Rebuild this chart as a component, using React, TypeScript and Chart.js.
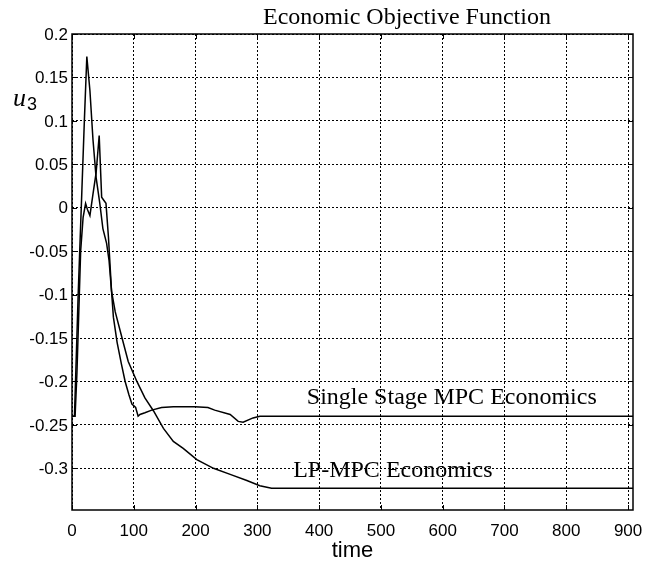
import React, { useEffect, useRef } from "react";
import { Chart, registerables } from "chart.js";

Chart.register(...registerables);

const xTicks = [0, 100, 200, 300, 400, 500, 600, 700, 800, 900];
const yTicks = [0.2, 0.15, 0.1, 0.05, 0, -0.05, -0.1, -0.15, -0.2, -0.25, -0.3];
const yTickLabels = ["0.2", "0.15", "0.1", "0.05", "0", "-0.05", "-0.1", "-0.15", "-0.2", "-0.25", "-0.3"];

const singleT = [0, 5, 8, 11, 14, 18, 22, 25, 29, 34, 39, 44, 48, 52, 55, 59, 64, 67, 73, 80, 86, 92, 97, 103, 107, 110, 118, 129, 145, 164, 199, 220, 231, 256, 269, 277, 293, 304, 908];
const singleU = [-0.24, -0.24, -0.19, -0.12, -0.05, -0.011, 0.005, -0.002, -0.009, 0.016, 0.04, 0.083, 0.012, 0.008, 0.005, -0.034, -0.096, -0.126, -0.155, -0.18, -0.2, -0.215, -0.226, -0.23, -0.24, -0.238, -0.236, -0.233, -0.23, -0.229, -0.229, -0.23, -0.233, -0.238, -0.246, -0.247, -0.242, -0.24, -0.24];

const lpT = [0, 4, 10, 16, 20, 24, 29, 34, 39, 45, 50, 56, 60, 64, 70, 81, 91, 105, 118, 132, 148, 164, 180, 202, 229, 256, 283, 304, 323, 908];
const lpU = [-0.24, -0.24, -0.1, 0.02, 0.1, 0.174, 0.135, 0.078, 0.035, 0.005, -0.024, -0.041, -0.061, -0.096, -0.12, -0.15, -0.177, -0.2, -0.219, -0.234, -0.254, -0.269, -0.277, -0.29, -0.3, -0.307, -0.314, -0.32, -0.323, -0.323];

const titleText = "Economic Objective Function";
const annotations = [
  { text: "Single Stage MPC Economics", t: 380, u: -0.226 },
  { text: "LP-MPC Economics", t: 358, u: -0.3095 },
];

const SANS = '"Liberation Sans", Arial, sans-serif';
const SERIF = '"Liberation Serif", "Times New Roman", serif';

const overlay = {
  id: "overlay",
  afterDraw(chart: any) {
    const ctx = chart.ctx;
    const { left, right, top, bottom } = chart.chartArea;
    const xs = chart.scales.x;
    const ys = chart.scales.y;
    ctx.save();
    ctx.strokeStyle = "#000";
    ctx.lineWidth = 1.5;
    ctx.strokeRect(left, top, right - left, bottom - top);
    ctx.lineWidth = 1;
    ctx.beginPath();
    xTicks.forEach((v) => {
      const px = Math.round(xs.getPixelForValue(v)) + 0.5;
      ctx.moveTo(px, bottom);
      ctx.lineTo(px, bottom - 5);
      ctx.moveTo(px, top);
      ctx.lineTo(px, top + 5);
    });
    yTicks.forEach((v) => {
      const py = Math.round(ys.getPixelForValue(v)) + 0.5;
      ctx.moveTo(left, py);
      ctx.lineTo(left + 5, py);
      ctx.moveTo(right, py);
      ctx.lineTo(right - 5, py);
    });
    ctx.stroke();
    ctx.fillStyle = "#000";

    ctx.font = `17px ${SANS}`;
    ctx.textAlign = "center";
    ctx.textBaseline = "middle";
    xTicks.forEach((v) => {
      ctx.fillText(String(v), xs.getPixelForValue(v), 531);
    });
    ctx.textAlign = "right";
    yTicks.forEach((v, i) => {
      ctx.fillText(yTickLabels[i], left - 4, ys.getPixelForValue(v) + 1);
    });

    ctx.textAlign = "left";
    ctx.textBaseline = "alphabetic";
    ctx.font = `24px ${SERIF}`;
    ctx.fillText(titleText, 263, 24);
    annotations.forEach((a) => {
      ctx.fillText(a.text, xs.getPixelForValue(a.t), ys.getPixelForValue(a.u));
    });

    ctx.font = `22px ${SANS}`;
    ctx.textAlign = "center";
    ctx.textBaseline = "middle";
    ctx.fillText("time", (left + right) / 2, 551);

    ctx.textAlign = "left";
    ctx.textBaseline = "alphabetic";
    ctx.font = `italic 26px ${SERIF}`;
    ctx.fillText("u", 13, 106);
    ctx.font = `18px ${SANS}`;
    ctx.fillText("3", 27, 110);
    ctx.restore();
  },
};

export default function App() {
  const ref = useRef<HTMLCanvasElement>(null);
  useEffect(() => {
    if (!ref.current) return;
    const chart = new Chart(ref.current, {
      type: "line",
      data: {
        datasets: [
          {
            label: "Single Stage MPC Economics",
            data: singleT.map((t, i) => ({ x: t, y: singleU[i] })),
            borderColor: "#000",
            borderWidth: 1.5,
            pointRadius: 0,
            tension: 0,
          },
          {
            label: "LP-MPC Economics",
            data: lpT.map((t, i) => ({ x: t, y: lpU[i] })),
            borderColor: "#000",
            borderWidth: 1.5,
            pointRadius: 0,
            tension: 0,
          },
        ],
      },
      options: {
        responsive: false,
        animation: false,
        devicePixelRatio: 1,
        layout: { padding: { top: 34, right: 15, left: 0, bottom: 0 } },
        plugins: { legend: { display: false }, tooltip: { enabled: false }, title: { display: false } },
        scales: {
          x: {
            type: "linear",
            min: 0,
            max: 908,
            afterFit: (s: any) => { s.height = 56; },
            afterBuildTicks: (s: any) => { s.ticks = xTicks.map((v) => ({ value: v })); },
            grid: { color: "#000", lineWidth: 1, drawTicks: false },
            border: { display: false, dash: [2, 2] },
            ticks: { display: false },
          },
          y: {
            type: "linear",
            min: -0.348,
            max: 0.2,
            afterFit: (s: any) => { s.width = 72; },
            afterBuildTicks: (s: any) => { s.ticks = yTicks.map((v) => ({ value: v })); },
            grid: { color: "#000", lineWidth: 1, drawTicks: false },
            border: { display: false, dash: [2, 2] },
            ticks: { display: false },
          },
        },
      },
      plugins: [overlay],
    });
    return () => chart.destroy();
  }, []);
  return (
    <div style={{ position: "fixed", left: 0, top: 0, width: 648, height: 566, background: "#fff" }}>
      <canvas ref={ref} width={648} height={566} style={{ width: 648, height: 566 }} />
    </div>
  );
}
